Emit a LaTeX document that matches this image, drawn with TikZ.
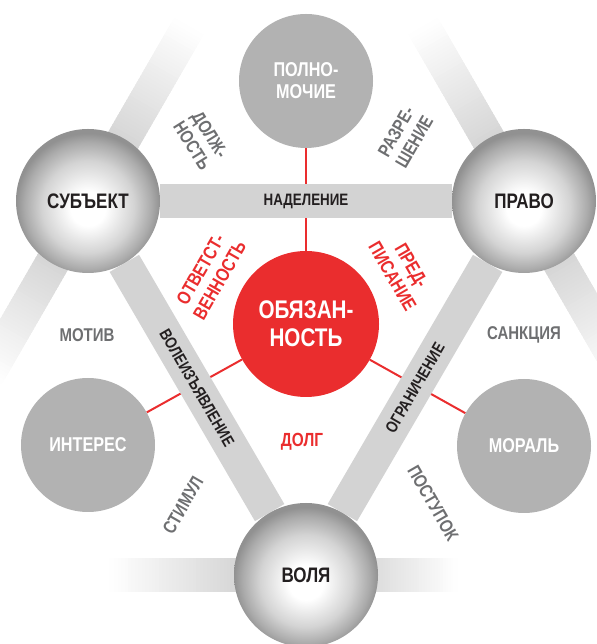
\documentclass[tikz,border=0pt]{standalone}
\usepackage{fontspec}
\setmainfont{Liberation Sans}[FakeStretch=0.81]
\usetikzlibrary{calc}
\pgfdeclarelayer{bg}
\pgfsetlayers{bg,main}
\definecolor{bandgray}{RGB}{211,211,211}
\definecolor{circgray}{RGB}{178,178,178}
\definecolor{dutyred}{RGB}{234,45,46}
\definecolor{notegray}{RGB}{110,111,113}
\definecolor{inkblack}{RGB}{35,31,32}
\pgfdeclareradialshading{sphereshade}{\pgfpoint{0bp}{-3bp}}{color(0bp)=(white); color(6bp)=(white); color(16bp)=(black!17); color(22bp)=(black!33); color(25bp)=(black!43); color(50bp)=(black!43)}
\tikzset{
  sphere/.style={circle, minimum size=144pt, inner sep=0pt, shade, shading=sphereshade,
    text=inkblack, font=\bfseries\fontsize{21}{22}\selectfont},
  flat/.style={circle, minimum size=134pt, inner sep=0pt, fill=circgray, text=white,
    align=center, font=\bfseries\fontsize{20}{22}\selectfont},
  core/.style={circle, minimum size=146pt, inner sep=0pt, fill=dutyred, text=white,
    align=center, font=\bfseries\fontsize{25.5}{28}\selectfont},
  band/.style={draw=bandgray, line width=34pt},
  tie/.style={draw=dutyred, line width=2pt},
  bandtext/.style={text=inkblack, font=\bfseries\fontsize{16.5}{18}\selectfont},
  notetext/.style={text=notegray, align=center, font=\bfseries\fontsize{18.5}{21}\selectfont},
  redtext/.style={text=dutyred, align=center, font=\bfseries\fontsize{19}{22}\selectfont},
}
\begin{document}
\begin{tikzpicture}[x=1pt, y=1pt]
\useasboundingbox (0,0) rectangle (596,644);
% the three spheres
\node[sphere] (subj) at (88,443) {СУБЪЕКТ};
\node[sphere] (pravo) at (524,443) {ПРАВО};
\node[sphere] (volya) at (306,69) {ВОЛЯ};
% flat circles and the red core
\node[flat] (polno) at (306,563) {ПОЛНО-\\МОЧИЕ};
\node[flat] (interes) at (88,199) {ИНТЕРЕС};
\node[flat] (moral) at (524,198) {МОРАЛЬ};
\node[core] (obyaz) at (306,320) {ОБЯЗАН-\\НОСТЬ};
% free ends of the fading bands
\coordinate (subjUp) at ($(subj)+(60:200)$);
\coordinate (subjDown) at ($(subj)+(240:200)$);
\coordinate (pravoUp) at ($(pravo)+(120:200)$);
\coordinate (pravoDown) at ($(pravo)+(-60:200)$);
\coordinate (volyaLeft) at ($(volya)+(180:195)$);
\coordinate (volyaRight) at ($(volya)+(0:150)$);
\begin{pgfonlayer}{bg}
% fading bands
\foreach \c/\e in {subj/subjUp, subj/subjDown, pravo/pravoUp, pravo/pravoDown, volya/volyaLeft, volya/volyaRight}
  \foreach \k in {0,...,39} {
    \pgfmathsetmacro\p{100-2.5*\k}
    \draw[draw=bandgray!\p!white, line width=34pt]
      ($(\c)!0.3+0.0175*\k!(\e)$) -- ($(\c)!0.3+0.0175*(\k+1.6)!(\e)$);
  }
% red ties
\draw[tie] (obyaz) -- (polno);
\draw[tie] (obyaz) -- (interes);
\draw[tie] (obyaz) -- (moral);
% triangle bands
\draw[band] (subj) -- (pravo);
\draw[band] (subj) -- (volya);
\draw[band] (volya) -- (pravo);
\end{pgfonlayer}
% band labels
\path (subj) -- (pravo) node[midway, bandtext] (nadel) {НАДЕЛЕНИЕ};
\path (subj) -- (volya) node[midway, sloped, bandtext] (voleiz) {ВОЛЕИЗЪЯВЛЕНИЕ};
\path (volya) -- (pravo) node[midway, sloped, bandtext] (ogran) {ОГРАНИЧЕНИЕ};
% grey labels
\node[notetext, rotate=-58] (dolzh) at (201,504) {ДОЛЖ-\\НОСТЬ};
\node[notetext, rotate=60] (razr) at (405,507) {РАЗРЕ-\\ШЕНИЕ};
\node[notetext] (motiv) at (87,309) {МОТИВ};
\node[notetext] (sankc) at (524,309) {САНКЦИЯ};
\node[notetext, rotate=60] (stimul) at (183,139) {СТИМУЛ};
\node[notetext, rotate=-60] (postup) at (433,141) {ПОСТУПОК};
% red labels
\node[redtext, rotate=60] (otv) at (210,369) {ОТВЕТСТ-\\ВЕННОСТЬ};
\node[redtext, rotate=-60] (pred) at (402,373) {ПРЕД-\\ПИСАНИЕ};
\node[redtext] (dolg) at (302,202) {ДОЛГ};
\end{tikzpicture}
\end{document}
